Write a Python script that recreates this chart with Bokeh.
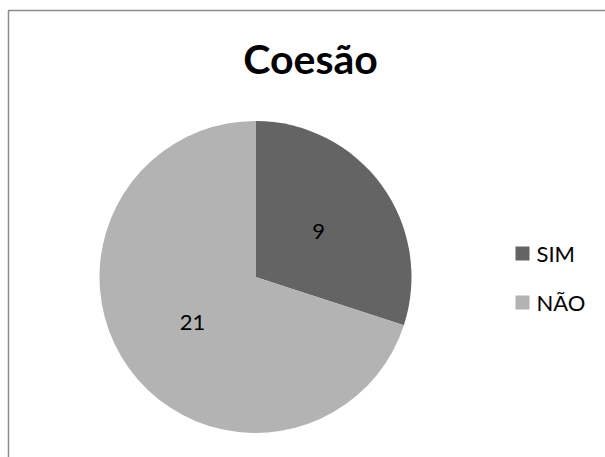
import numpy as np
from bokeh.plotting import figure
from bokeh.models import Range1d
from bokeh.core.properties import value
from bokeh.embed import file_html
from bokeh.resources import INLINE

# Data
categories = ["SIM", "NÃO"]
counts = [9, 21]
colors = ["#646464", "#b3b3b3"]
title_text = "Coesão"

W, H = 605, 457
p = figure(width=W, height=H, x_range=Range1d(0, W), y_range=Range1d(0, H),
           output_backend="svg", toolbar_location=None, min_border=0,
           outline_line_color=None, background_fill_color="white",
           border_fill_color="white")
p.axis.visible = False
p.grid.visible = False

def Y(py):
    return H - py

# Chart border
p.quad(left=[8], right=[W + 10], top=[Y(10)], bottom=[Y(H + 10)],
       fill_color=None, line_color="#8c8c8c", line_width=1.5)

# Pie
cx, cy, R = 255, Y(276.5), 156
total = sum(counts)
fracs = np.array(counts) / total
ends = np.cumsum(fracs)
starts = ends - fracs
start_ang = np.pi / 2 - 2 * np.pi * starts
end_ang = np.pi / 2 - 2 * np.pi * ends
p.wedge(x=[cx] * len(counts), y=[cy] * len(counts), radius=R,
        start_angle=list(start_ang), end_angle=list(end_ang), direction="clock",
        fill_color=colors, line_color=None)

# Data labels
mid = (start_ang + end_ang) / 2
lx = cx + 0.5 * R * np.cos(mid)
ly = cy + 0.5 * R * np.sin(mid)
p.text(x=list(lx), y=list(ly), text=[str(c) for c in counts],
       text_font=value("Lato"), text_font_size="22px", text_color="black",
       text_align="center", text_baseline="middle")

# Title
p.text(x=[310], y=[Y(58)], text=[title_text], text_font=value("Lato"),
       text_font_size="41px", text_font_style="bold", text_color="black",
       text_align="center", text_baseline="middle")

# Legend
leg_y = [Y(253), Y(302)]
p.rect(x=[522] * len(categories), y=leg_y, width=14, height=14,
       fill_color=colors, line_color=None)
p.text(x=[536] * len(categories), y=leg_y, text=categories,
       text_font=value("Lato"), text_font_size="22px", text_color="black",
       text_align="left", text_baseline="middle")

open("out.html", "w").write(file_html(p, INLINE))
